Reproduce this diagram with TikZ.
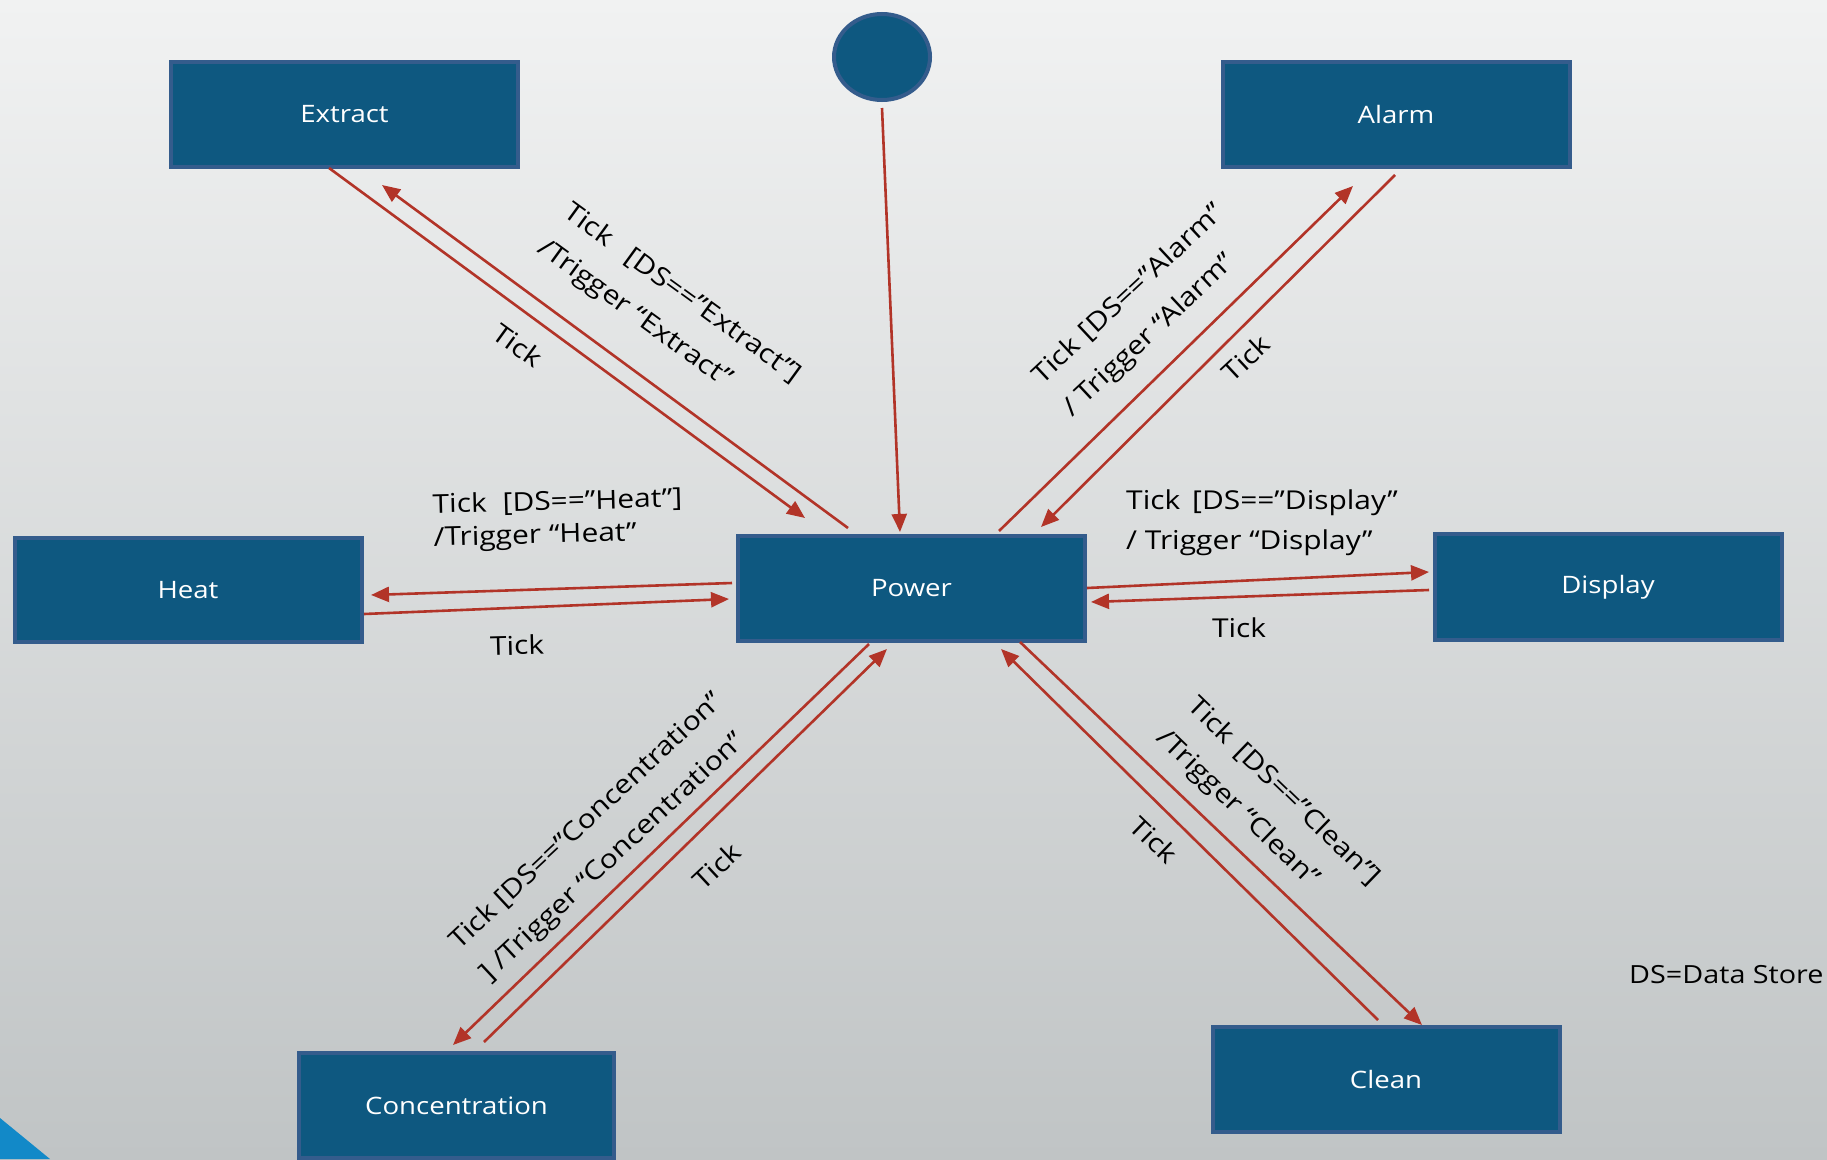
\documentclass[tikz,border=0pt]{standalone}
\usepackage{fontspec}
\setmainfont{Open Sans}[FakeStretch=1.15]
\usetikzlibrary{arrows.meta,calc,shapes.geometric}
\definecolor{boxfill}{RGB}{14,88,128}
\definecolor{boxline}{RGB}{52,92,140}
\definecolor{wire}{RGB}{178,52,40}
\definecolor{bgtop}{RGB}{241,242,242}
\definecolor{bgmid}{RGB}{228,230,230}
\definecolor{bgbot}{RGB}{192,196,197}
\definecolor{cornerblue}{RGB}{18,137,200}

\begin{document}
\begin{tikzpicture}[x=1pt,y=-1pt,
  state/.style={draw=boxline, fill=boxfill, line width=4pt,
    minimum width=347pt, minimum height=105pt, inner sep=0pt,
    text=white, font=\fontsize{24}{30}\selectfont},
  initstate/.style={ellipse, draw=boxline, fill=boxfill, line width=4pt,
    minimum width=96pt, minimum height=86pt},
  trans/.style={draw=wire, line width=2.6pt, -{Triangle[length=18pt,width=15pt]}},
  lbl/.style={font=\fontsize{26}{33}\selectfont, align=left, inner sep=0pt, text=black},
  lblwide/.style={lbl, font=\fontsize{26}{44}\selectfont},
]
% canvas and background
\useasboundingbox (0,0) rectangle (1827,1159);
\clip (0,0) rectangle (1827,1159);
\shade[top color=bgtop, middle color=bgmid, bottom color=bgbot] (0,0) rectangle (1827,1159);
\fill[cornerblue] (0,1118) -- (50,1159) -- (0,1159) -- cycle;

% states
\node[state] (extract) at (344.5,114.5) {Extract};
\node[state] (alarm) at (1396,114.5) {Alarm};
\node[state, minimum height=104pt] (heat) at (188,590) {Heat};
\node[state] (power) at (911.5,588.5) {Power};
\node[state, minimum height=106pt] (display) at (1608,587) {Display};
\node[state, minimum width=315pt] (conc) at (456.5,1105.5) {Concentration};
\node[state] (clean) at (1386,1079.5) {Clean};
\node[initstate] (init) at (882,57) {};

% transitions
\draw[trans] ($(init)+(0,51)$) -- ($(power)+(-11.5,-56.5)$);

\draw[trans] ($(extract)+(-15.5,53.5)$) -- ($(power)+(-106.5,-70.5)$);
\draw[trans] ($(power)+(-63.5,-60.5)$) -- ($(extract)+(37.5,70.5)$);

\draw[trans] ($(power)+(87.5,-57.5)$) -- ($(alarm)+(-43,71.5)$);
\draw[trans] ($(alarm)+(-1,60.5)$) -- ($(power)+(129.5,-61.5)$);

\draw[trans] ($(power)+(-179.5,-5.5)$) -- ($(heat)+(183,5)$);
\draw[trans] ($(heat)+(176,24)$) -- ($(power)+(-182.5,10.5)$);

\draw[trans] ($(power)+(175.5,-0.5)$) -- ($(display)+(-179,-15)$);
\draw[trans] ($(display)+(-179,3)$) -- ($(power)+(179.5,13.5)$);

\draw[trans] ($(power)+(-42.5,55.5)$) -- ($(conc)+(-3.5,-60.5)$);
\draw[trans] ($(conc)+(27.5,-63.5)$) -- ($(power)+(-24.5,60.5)$);

\draw[trans] ($(power)+(108.5,53.5)$) -- ($(clean)+(36,-54.5)$);
\draw[trans] ($(clean)+(-8,-59.5)$) -- ($(power)+(89.5,60.5)$);

% transition labels
\node[lblwide, rotate=-36] (lExtract) at (669,312)
  {Tick\hspace{22pt}[DS==”Extract”]\\/Trigger “Extract”};
\node[lbl, rotate=-36] (tExtract) at (518,345) {Tick};

\node[lblwide, rotate=43] (lAlarm) at (1144,311)
  {Tick\hspace{10pt}[DS==”Alarm”\\/ Trigger “Alarm”};
\node[lbl, rotate=43] (tAlarm) at (1246,358) {Tick};

\node[lbl, rotate=1.5, anchor=west] (lHeat) at (433,523)
  {Tick\hspace{16pt}[DS==”Heat”]\\/Trigger\hspace{8pt}“Heat”};
\node[lbl, rotate=1.5] (tHeat) at (517,645) {Tick};

\node[lbl, font=\fontsize{26}{40}\selectfont, anchor=west] (lDisplay) at (1126,523)
  {Tick\hspace{12pt}[DS==”Display”\\/ Trigger “Display”};
\node[lbl] (tDisplay) at (1239,628) {Tick};

\node[lblwide, rotate=43] (lConc) at (602,838)
  {Tick [DS==”Concentration”\\] /Trigger “Concentration”};
\node[lbl, rotate=43] (tConc) at (717,866) {Tick};

\node[lblwide, rotate=-44] (lClean) at (1268,808)
  {Tick\hspace{12pt}[DS==”Clean”]\\/Trigger “Clean”};
\node[lbl, rotate=-44] (tClean) at (1154,840) {Tick};

% legend
\node[lbl, font=\fontsize{25}{30}\selectfont, anchor=west] (legend) at (1629,975) {DS=Data Store};
\end{tikzpicture}
\end{document}
